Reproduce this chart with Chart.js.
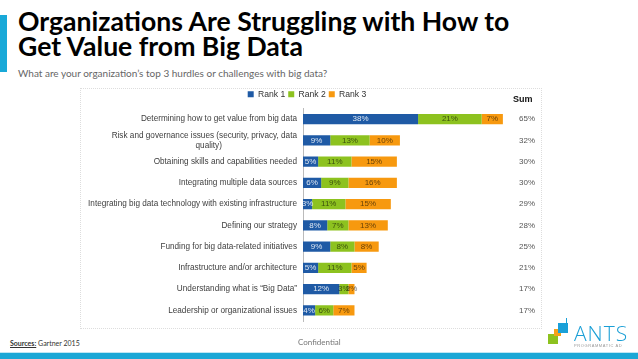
<!DOCTYPE html>
<html>
<head>
<meta charset="utf-8">
<script src="https://cdn.jsdelivr.net/npm/chart.js@4.4.0/dist/chart.umd.min.js"></script>
<style>
  body { margin: 0; background: #fff; width: 638px; height: 359px; position: relative; overflow: hidden; font-family: "Liberation Sans", Arial, sans-serif; }
  .sidebar { position: absolute; left: 0; top: 15px; width: 7px; height: 57px; background: #19a9d8; }
  .title { position: absolute; left: 18px; top: 9px; font-family: Lato, sans-serif; font-weight: 700; font-size: 26.6px; line-height: 25px; color: #000; }
  .subtitle { position: absolute; left: 18px; top: 67px; font-family: Lato, sans-serif; font-size: 10px; color: #666; }
  .frame { position: absolute; left: 80px; top: 88px; width: 460px; height: 239px; border: 1px dotted #ddd; }
  .chartBox { position: absolute; left: 60px; top: 87px; width: 494px; height: 245px; }
  .source { position: absolute; left: 10px; top: 339px; font-family: Lato, sans-serif; font-size: 7px; color: #333; }
  .source u { font-weight: 700; }
  .conf { position: absolute; left: 298px; top: 337px; font-family: Lato, sans-serif; font-size: 8px; color: #777; }
  .stripe { position: absolute; left: 0; top: 352px; width: 638px; height: 7px; background: #1aa7d6; border-top: 1px solid #bfe6f3; }
  .logo .sq { position: absolute; width: 10px; height: 10px; }
  .logo .ants { position: absolute; left: 574px; top: 319px; font-family: "Open Sans", sans-serif; font-weight: 300; font-size: 21px; color: #1a9fd6; letter-spacing: 1px; }
  .logo .prog { position: absolute; left: 574px; top: 343px; font-size: 4px; color: #999; letter-spacing: 0.6px; }
</style>
</head>
<body>
<div class="sidebar"></div>
<div class="title">Organizations Are Struggling with How to<br>Get Value from Big Data</div>
<div class="subtitle">What are your organization’s top 3 hurdles or challenges with big data?</div>
<div class="frame"></div>
<div class="chartBox"><canvas id="barChart"></canvas></div>
<div class="source"><u>Sources:</u> Gartner 2015</div>
<div class="conf">Confidential</div>
<div class="logo">
  <div class="sq" style="left:548px;top:334px;background:#8dc21f"></div>
  <div class="sq" style="left:554px;top:329px;width:7px;height:7px;background:#f5a21a"></div>
  <div class="sq" style="left:558px;top:323px;background:#1aa0d8"></div>
  <div style="position:absolute;left:566px;top:318px;width:1px;height:7px;background:#1aa0d8"></div>
  <div class="ants">ANTS</div>
  <div class="prog">PROGRAMMATIC AD</div>
</div>
<div class="stripe"></div>
<script>
// du lieu doc tu hinh
var gCategories = [
    "Determining how to get value from big data",
    ["Risk and governance issues (security, privacy, data", "quality)" + "\u00A0".repeat(33)],
    "Obtaining skills and capabilities needed",
    "Integrating multiple data sources",
    "Integrating big data technology with existing infrastructure",
    "Defining our strategy",
    "Funding for big data-related initiatives",
    "Infrastructure and/or architecture",
    "Understanding what is \u201CBig Data\u201D",
    "Leadership or organizational issues"
];
var gRank1 = [38, 9, 5, 6, 3, 8, 9, 5, 12, 4];
var gRank2 = [21, 13, 11, 9, 11, 7, 8, 11, 3, 6];
var gRank3 = [7, 10, 15, 16, 15, 13, 8, 5, 2, 7];
var gSumLabels = ["65%", "32%", "30%", "30%", "29%", "28%", "25%", "21%", "17%", "17%"];
var gSeriesNames = ["Rank 1", "Rank 2", "Rank 3"];

var gFont = "'Liberation Sans', Arial, sans-serif";

// ghi % len tung doan bar
var segmentLabelPlugin = {
    id: "segmentLabels",
    afterDatasetsDraw: function (chart) {
        var ctx = chart.ctx;
        ctx.save();
        ctx.font = "8px " + gFont;
        ctx.textAlign = "center";
        ctx.textBaseline = "middle";
        chart.data.datasets.forEach(function (ds, i) {
            var meta = chart.getDatasetMeta(i);
            ctx.fillStyle = i == 0 ? "rgba(255,255,255,0.85)" : "rgba(0,0,0,0.6)";
            meta.data.forEach(function (bar, j) {
                var cx = (bar.x + bar.base) / 2;
                ctx.fillText(ds.data[j] + "%", cx, bar.y);
            });
        });
        // tieu de cot Sum
        var sumScale = chart.scales.ySum;
        ctx.font = "bold 9px " + gFont;
        ctx.fillStyle = "#111";
        ctx.textAlign = "left";
        ctx.fillText("Sum", sumScale.left - 2, chart.chartArea.top - 9);
        ctx.restore();
    }
};

function drawChart() {
    var vData = {
        labels: gCategories,
        datasets: [
            { label: gSeriesNames[0], data: gRank1, backgroundColor: "#1f5aa5" },
            { label: gSeriesNames[1], data: gRank2, backgroundColor: "#8dc21f" },
            { label: gSeriesNames[2], data: gRank3, backgroundColor: "#f7990f" }
        ]
    };
    var vCtx = document.getElementById("barChart").getContext("2d");
    new Chart(vCtx, {
        type: "bar",
        data: vData,
        options: {
            indexAxis: "y",
            responsive: true,
            maintainAspectRatio: false,
            animation: false,
            categoryPercentage: 1,
            barPercentage: 0.48,
            layout: { padding: 0 },
            plugins: {
                legend: {
                    position: "top",
                    maxHeight: 22,
                    labels: {
                        boxWidth: 6,
                        boxHeight: 6,
                        padding: 3,
                        color: "#333",
                        font: { size: 8.6, family: gFont }
                    }
                },
                tooltip: { enabled: false }
            },
            scales: {
                x: { stacked: true, min: 0, max: 70, display: false },
                y: {
                    stacked: true,
                    grid: { display: false, drawTicks: false },
                    border: { display: true, color: "#bbb" },
                    ticks: { autoSkip: false, color: "#404040", padding: 6, font: { size: 8.2, family: gFont, lineHeight: 1.2 } },
                    afterFit: function (s) { s.width = 243; }
                },
                ySum: {
                    type: "category",
                    axis: "y",
                    position: "right",
                    labels: gSumLabels,
                    offset: true,
                    grid: { display: false, drawTicks: false },
                    border: { display: false },
                    ticks: { autoSkip: false, color: "#555", padding: 4, font: { size: 8, family: gFont } },
                    afterFit: function (s) { s.width = 39; }
                }
            }
        },
        plugins: [segmentLabelPlugin]
    });
}

drawChart();
</script>
</body>
</html>
